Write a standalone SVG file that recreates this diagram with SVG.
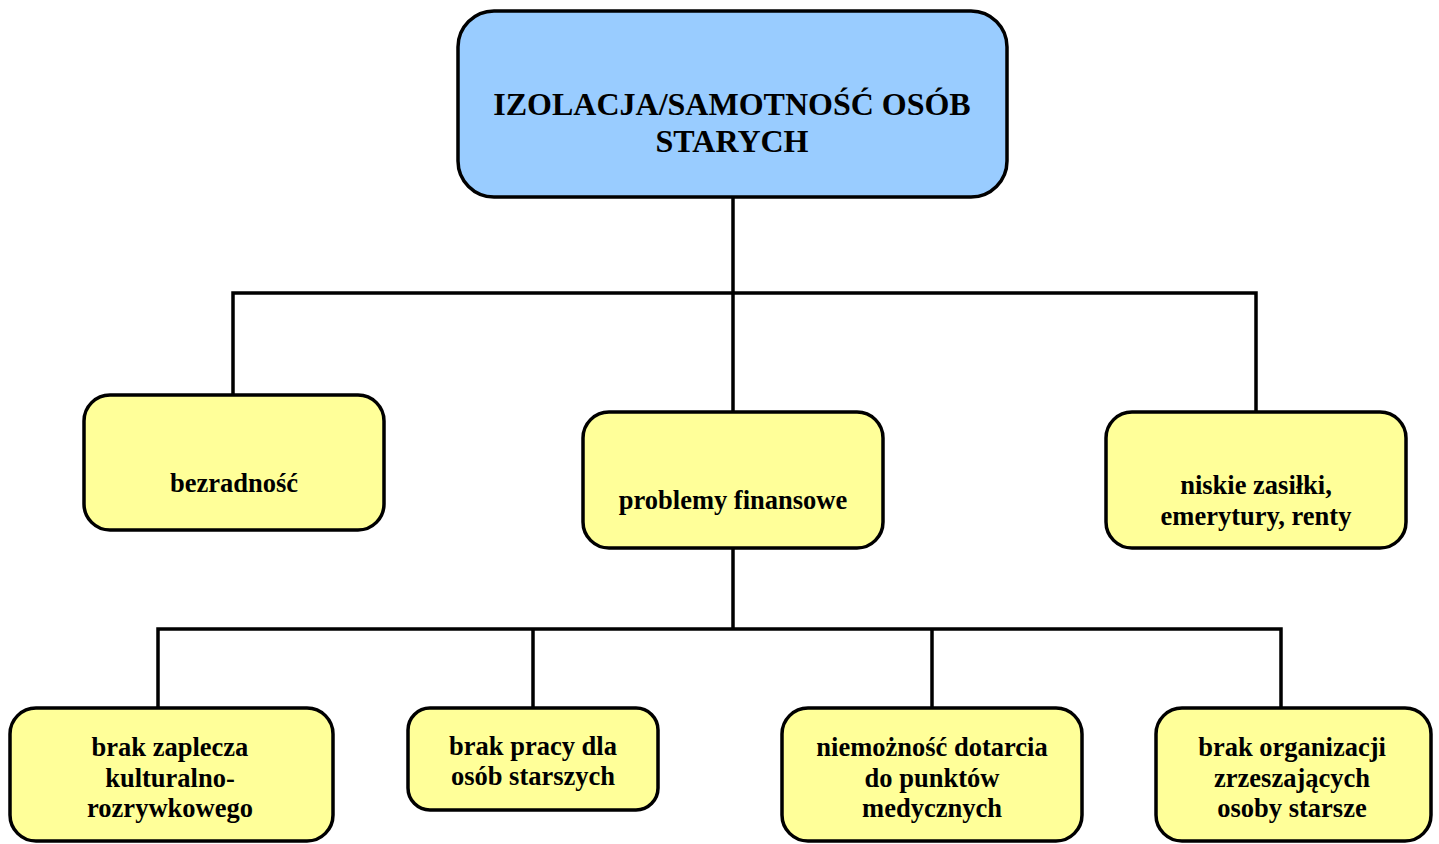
<svg xmlns="http://www.w3.org/2000/svg" width="1439" height="844" viewBox="0 0 1439 844">
<style>
.box{stroke:#000;stroke-width:3.5}
.top{fill:#99CCFF}
.leaf{fill:#FFFF99}
.t{font-family:"Liberation Serif","Times New Roman",serif;font-weight:bold;fill:#000;text-anchor:middle}
.t1{font-size:32px}
.t2{font-size:26.5px}
.con{fill:none;stroke:#000;stroke-width:3.5}
</style>
<rect width="1439" height="844" fill="#fff"/>
<g id="connectors" class="con">
<path d="M733 197 V412"/>
<path d="M233 395 V293 H1256 V412"/>
<path d="M733 548 V629"/>
<path d="M158 708 V629 H1281 V708"/>
<path d="M533 629 V708"/>
<path d="M932 629 V708"/>
</g>
<g id="n_root">
<rect class="box top" x="458" y="11" width="549" height="186" rx="36"/>
<text class="t t1" x="732" y="115">IZOLACJA/SAMOTNOŚĆ OSÓB</text>
<text class="t t1" x="732" y="152">STARYCH</text>
</g>
<g id="n_bezradnosc">
<rect class="box leaf" x="84" y="395" width="300" height="135" rx="26"/>
<text class="t t2" x="234" y="492">bezradność</text>
</g>
<g id="n_problemy">
<rect class="box leaf" x="583" y="412" width="300" height="136" rx="26"/>
<text class="t t2" x="733" y="509">problemy finansowe</text>
</g>
<g id="n_niskie">
<rect class="box leaf" x="1106" y="412" width="300" height="136" rx="26"/>
<text class="t t2" x="1256" y="494">niskie zasiłki,</text>
<text class="t t2" x="1256" y="525">emerytury, renty</text>
</g>
<g id="n_zaplecze">
<rect class="box leaf" x="10" y="708" width="323" height="133" rx="26"/>
<text class="t t2" x="170" y="756">brak zaplecza</text>
<text class="t t2" x="170" y="787">kulturalno-</text>
<text class="t t2" x="170" y="817">rozrywkowego</text>
</g>
<g id="n_praca">
<rect class="box leaf" x="408" y="708" width="250" height="102" rx="22"/>
<text class="t t2" x="533" y="755">brak pracy dla</text>
<text class="t t2" x="533" y="785">osób starszych</text>
</g>
<g id="n_medyczne">
<rect class="box leaf" x="782" y="708" width="300" height="133" rx="26"/>
<text class="t t2" x="932" y="756">niemożność dotarcia</text>
<text class="t t2" x="932" y="787">do punktów</text>
<text class="t t2" x="932" y="817">medycznych</text>
</g>
<g id="n_organizacje">
<rect class="box leaf" x="1156" y="708" width="275" height="133" rx="26"/>
<text class="t t2" x="1292" y="756">brak organizacji</text>
<text class="t t2" x="1292" y="787">zrzeszających</text>
<text class="t t2" x="1292" y="817">osoby starsze</text>
</g>
</svg>
